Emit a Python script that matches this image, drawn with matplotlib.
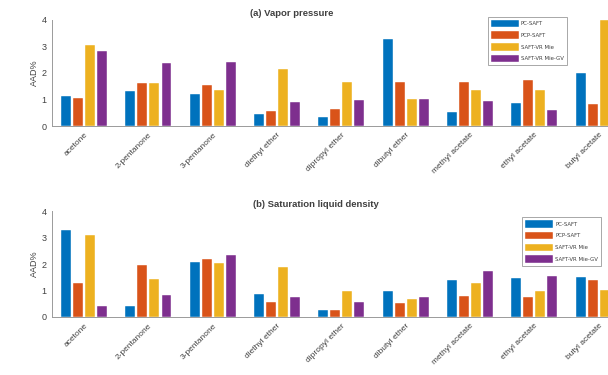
import matplotlib.pyplot as plt
import numpy as np

plt.rcParams['font.family'] = ['Liberation Sans', 'DejaVu Sans']

compounds = ["acetone", "2-pentanone", "3-pentanone", "diethyl ether", "dipropyl ether",
             "dibutyl ether", "methyl acetate", "ethyl acetate", "butyl acetate"]
models = ["PC-SAFT", "PCP-SAFT", "SAFT-VR Mie", "SAFT-VR Mie-GV"]

# AAD% for vapor pressure
vp_pc = [1.12, 1.32, 1.20, 0.47, 0.35, 3.27, 0.52, 0.85, 2.00]
vp_pcp = [1.05, 1.62, 1.54, 0.55, 0.64, 1.64, 1.65, 1.72, 0.82]
vp_vrmie = [3.07, 1.62, 1.35, 2.15, 1.66, 1.02, 1.35, 1.37, 4.00]
vp_vrmie_gv = [2.82, 2.37, 2.41, 0.91, 0.97, 1.02, 0.95, 0.62, 1.00]

# AAD% for saturated liquid density
rho_pc = [3.30, 0.42, 2.07, 0.88, 0.25, 0.98, 1.40, 1.47, 1.52]
rho_pcp = [1.29, 1.95, 2.19, 0.55, 0.25, 0.52, 0.78, 0.75, 1.38]
rho_vrmie = [3.10, 1.45, 2.04, 1.89, 0.96, 0.66, 1.27, 0.97, 1.00]
rho_vrmie_gv = [0.42, 0.84, 2.35, 0.75, 0.55, 0.75, 1.73, 1.54, 0.90]

colors = ["#0072BD", "#D95319", "#EDB120", "#7E2F8E"]
txt = "#404040"

fig = plt.figure(figsize=(6.08, 3.75), dpi=100)
ax_a = fig.add_axes([0.0855, 0.664, 0.952, 0.283])
ax_b = fig.add_axes([0.0855, 0.155, 0.952, 0.282])

x = np.arange(1, len(compounds) + 1)
pitch = 0.187
w = 0.155


def panel(ax, series, title, title_x, leg_anchor):
    for k, vals in enumerate(series):
        ax.bar(x + (k - 1.5) * pitch, vals, w, color=colors[k],
               edgecolor="white", linewidth=0.3, label=models[k])
    ax.set_xlim(0.5, 9.5)
    ax.set_ylim(0, 4)
    ax.set_yticks([0, 1, 2, 3, 4])
    ax.set_xticks(x)
    ax.set_xticklabels(compounds, rotation=45, ha="right", rotation_mode="anchor",
                       fontsize=6, color=txt)
    ax.tick_params(axis="y", labelsize=6.5, colors=txt, length=0, pad=4)
    ax.tick_params(axis="x", length=0, pad=4)
    for s in ["top", "right"]:
        ax.spines[s].set_visible(False)
    for s in ["left", "bottom"]:
        ax.spines[s].set_color("#9a9a9a")
        ax.spines[s].set_linewidth(0.7)
    ax.set_ylabel("AAD%", fontsize=6.5, color=txt, labelpad=2)
    ax.set_title(title, fontsize=6.8, fontweight="bold", color=txt, pad=3, x=title_x)
    leg = ax.legend(loc="upper left", bbox_to_anchor=leg_anchor,
                    prop={"family": ["Liberation Sans Narrow", "DejaVu Sans"], "size": 3.9},
                    handlelength=5.2, handleheight=1.75, handletextpad=0.3,
                    labelspacing=0.75, borderpad=0.6, fancybox=False,
                    framealpha=1, edgecolor="#9a9a9a", borderaxespad=0)
    leg.get_frame().set_linewidth(0.6)
    for t in leg.get_texts():
        t.set_color(txt)


panel(ax_a, [vp_pc, vp_pcp, vp_vrmie, vp_vrmie_gv], "(a) Vapor pressure", 0.414,
      (0.753, 1.03))
panel(ax_b, [rho_pc, rho_pcp, rho_vrmie, rho_vrmie_gv], "(b) Saturation liquid density",
      0.456, (0.812, 0.943))

fig.savefig("out.png", dpi=100)
